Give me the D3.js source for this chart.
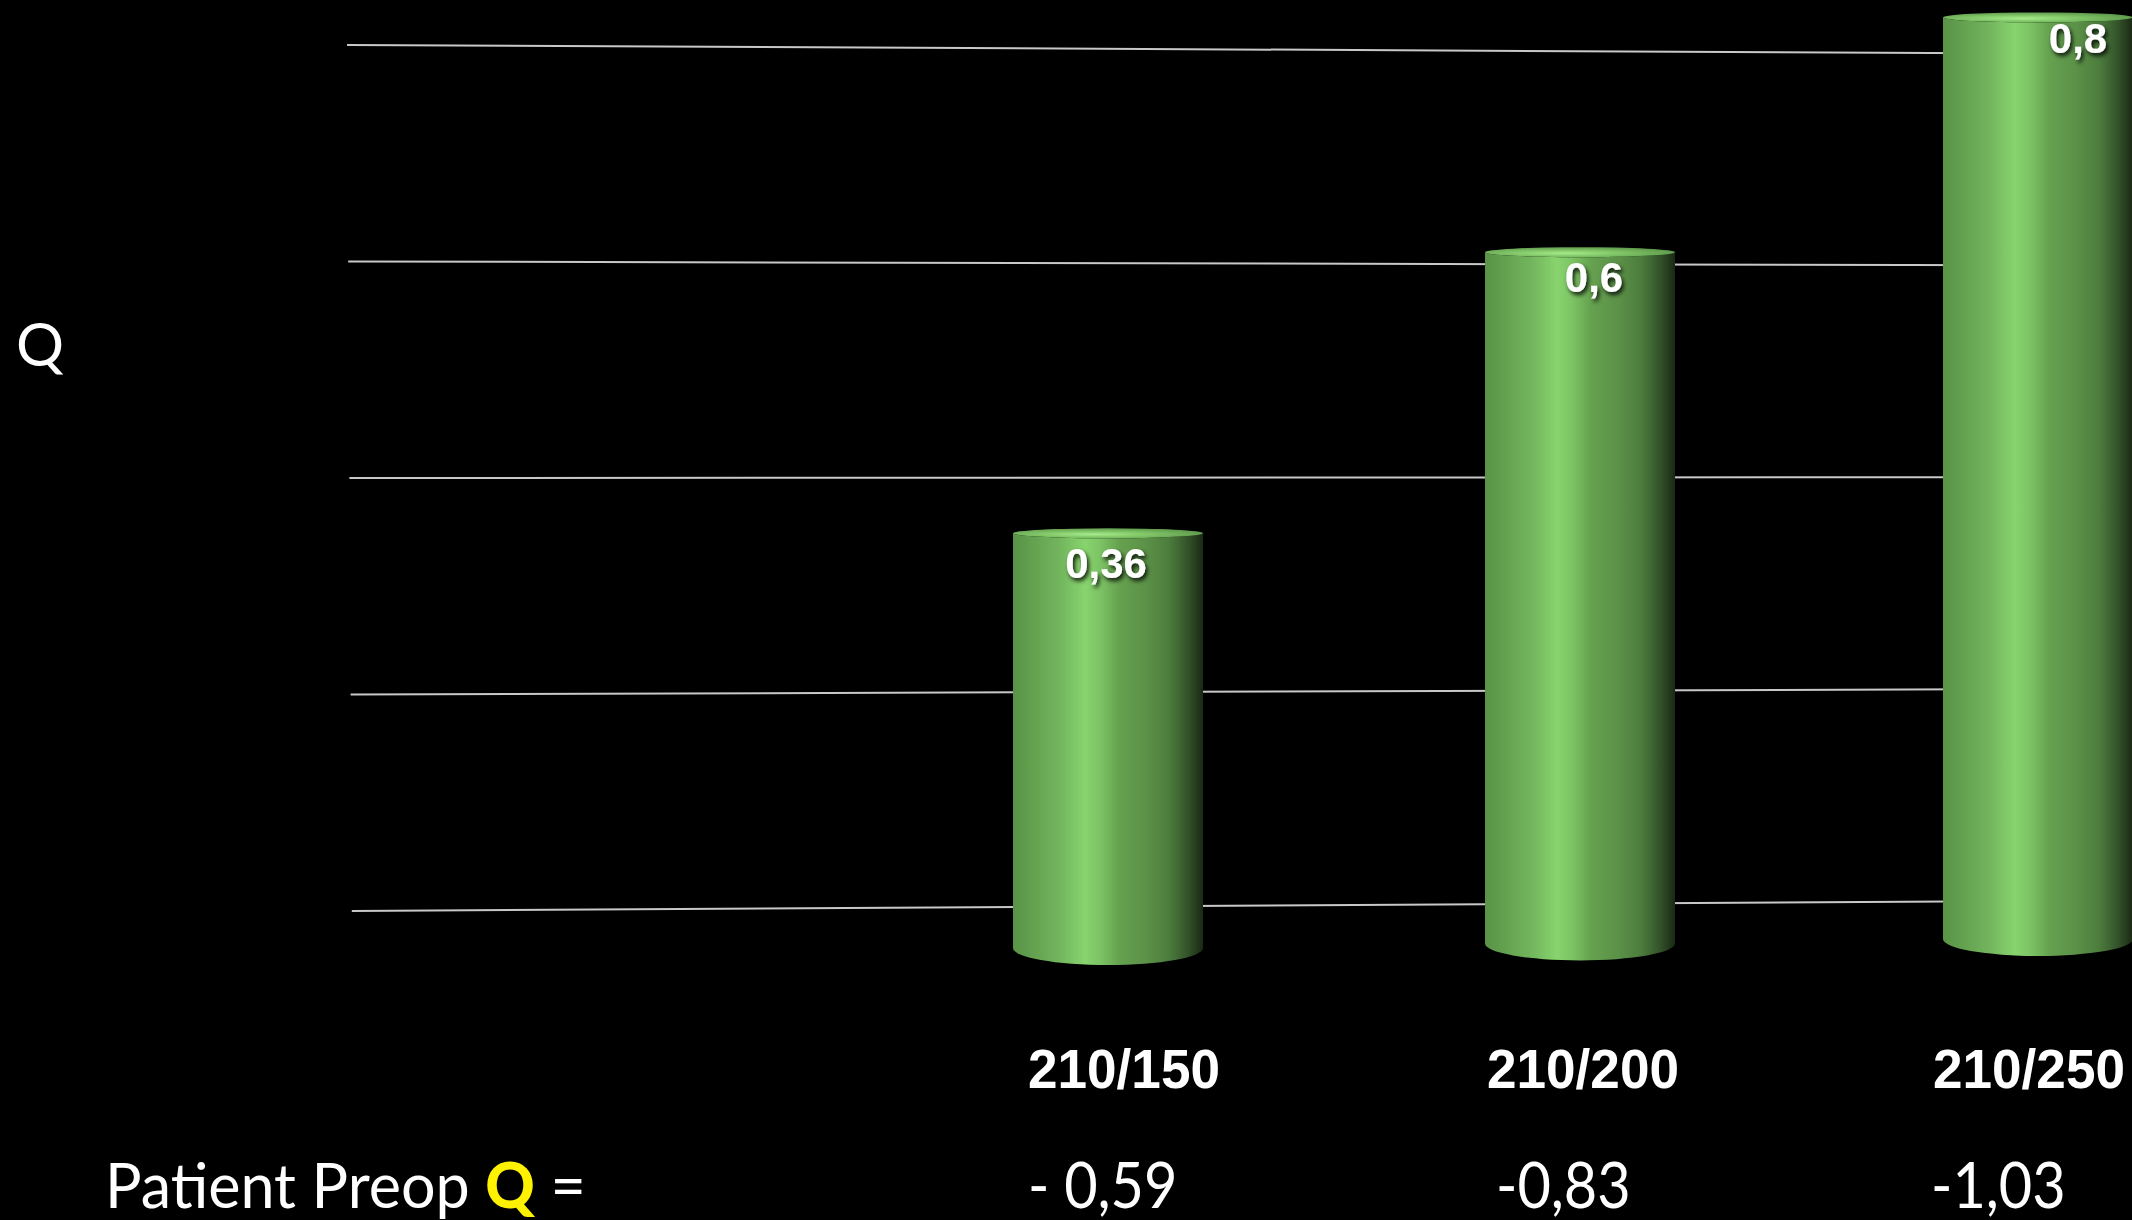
<!DOCTYPE html>
<html>
<head>
<meta charset="utf-8">
<script src="https://cdn.jsdelivr.net/npm/d3@7"></script>
<style>
html,body{margin:0;padding:0;background:#000;overflow:hidden;}
svg{display:block;}
</style>
</head>
<body>
<script>
// ---- data ----
const categories = ["210/150", "210/200", "210/250"];
const values = [0.36, 0.6, 0.8];
const valueLabels = ["0,36", "0,6", "0,8"];
const preopQ = ["- 0,59", "-0,83", "-1,03"];
const gridTicks = [0.2, 0.4, 0.6, 0.8, 1.0];
const yTitle = "Q";
const rowLabel = "Patient Preop ";

const W = 2132, H = 1220;
const svg = d3.select("body").append("svg").attr("width", W).attr("height", H);
svg.append("rect").attr("width", W).attr("height", H).attr("fill", "#000");

const defs = svg.append("defs");
const bodyGrad = defs.append("linearGradient").attr("id", "cyl").attr("x1", "0").attr("x2", "1").attr("y1", "0").attr("y2", "0");
[["0%", "#5a9347"], ["10%", "#63a04f"], ["25%", "#73b65e"], ["38%", "#88d46e"], ["46%", "#7cc364"],
 ["56%", "#65a14f"], ["70%", "#5b9148"], ["82%", "#4d7d3d"], ["92%", "#33532a"], ["100%", "#1a2814"]]
  .forEach(([o, c]) => bodyGrad.append("stop").attr("offset", o).attr("stop-color", c));
const topGrad = defs.append("radialGradient").attr("id", "topface").attr("cx", "0.42").attr("cy", "0.6").attr("r", "0.6");
[["0%", "#a6ec8c"], ["40%", "#86cc6c"], ["100%", "#5f9a4c"]]
  .forEach(([o, c]) => topGrad.append("stop").attr("offset", o).attr("stop-color", c));
const shadow = defs.append("filter").attr("id", "tshadow").attr("x", "-20%").attr("y", "-20%").attr("width", "140%").attr("height", "160%");
shadow.append("feDropShadow").attr("dx", 2).attr("dy", 3).attr("stdDeviation", 2).attr("flood-color", "#000").attr("flood-opacity", 0.85);

// ---- back-wall gridlines (slight perspective: separate left/right scales) ----
const gxL = 347, gxR = 1944;
const yWallL = d3.scaleLinear().domain([0, 1]).range([1127.5, 45]);
const yWallR = d3.scaleLinear().domain([0, 1]).range([1113.6, 53]);
svg.append("g").selectAll("line").data(gridTicks).join("line")
  .attr("x1", d => gxL + (1 - d) * 6)
  .attr("y1", d => yWallL(d))
  .attr("x2", W)
  .attr("y2", d => yWallL(d) + (yWallR(d) - yWallL(d)) * (W - gxL) / (gxR - gxL))
  .attr("stroke", "#c8c8c8").attr("stroke-width", 2);

// ---- bars (cylinders) ----
const idx = d3.scaleOrdinal().domain(categories).range([0, 1, 2]);
const xPos = d3.scaleLinear().domain([0, 1, 2]).range([1108, 1580, 2038]);
const x = c => xPos(idx(c));
const h = d3.scaleLinear().domain([0, 1]).range([0, 1152]);
const base = cx => 948 - (cx - 1108) * 0.0097;
const rx = 95, ryTop = 5, ryBot = 17;

const bars = svg.append("g").selectAll("g").data(categories).join("g");
bars.append("path")
  .attr("d", (c, i) => {
    const cx = x(c), yb = base(cx), yt = yb - h(values[i]);
    return `M${cx - rx},${yt} L${cx - rx},${yb} A${rx},${ryBot} 0 0 0 ${cx + rx},${yb} L${cx + rx},${yt} A${rx},${ryTop} 0 0 1 ${cx - rx},${yt} Z`;
  })
  .attr("fill", "url(#cyl)");
bars.append("ellipse")
  .attr("cx", c => x(c))
  .attr("cy", (c, i) => base(x(c)) - h(values[i]))
  .attr("rx", rx).attr("ry", ryTop)
  .attr("fill", "url(#topface)");

// value labels
const xVal = d3.scaleLinear().domain([0, 1, 2]).range([1106, 1594, 2078]);
svg.append("g").selectAll("text").data(categories).join("text")
  .attr("x", c => xVal(idx(c)))
  .attr("y", (c, i) => { const yt = base(x(c)) - h(values[i]); return yt + 35.2 + yt * 0.0184; })
  .attr("text-anchor", "middle")
  .attr("font-family", "Liberation Sans, Arial, sans-serif")
  .attr("font-weight", "bold").attr("font-size", 42)
  .attr("fill", "#fff").attr("filter", "url(#tshadow)")
  .text((c, i) => valueLabels[i]);

// category labels
const xLab = d3.scaleLinear().domain([0, 1, 2]).range([1028, 1487, 1933]);
svg.append("g").selectAll("text").data(categories).join("text")
  .attr("x", c => xLab(idx(c))).attr("y", 1088)
  .attr("font-family", "Liberation Sans, Arial, sans-serif")
  .attr("font-weight", "bold").attr("font-size", 56)
  .attr("textLength", 192).attr("lengthAdjust", "spacingAndGlyphs")
  .attr("fill", "#fff")
  .text(c => c);

// preop Q row
const xQ = d3.scaleLinear().domain([0, 1, 2]).range([1028, 1496, 1931]);
svg.append("g").selectAll("text").data(categories).join("text")
  .attr("transform", c => `translate(${xQ(idx(c))},1208) scale(0.9,1)`)
  .attr("font-family", "Lato, 'Open Sans', sans-serif")
  .attr("font-weight", 400).attr("font-size", 64)
  .attr("fill", "#fff")
  .text((c, i) => preopQ[i]);

const row = svg.append("text").attr("transform", "translate(105,1208) scale(0.985,1)")
  .attr("font-family", "Lato, 'Open Sans', sans-serif")
  .attr("font-size", 62).attr("fill", "#fff");
row.append("tspan").attr("font-weight", 400).text(rowLabel);
row.append("tspan").attr("font-weight", 900).attr("fill", "#fff200").text("Q");
row.append("tspan").attr("font-weight", 400).text(" =");

// y axis title
svg.append("text").attr("x", 16).attr("y", 366)
  .attr("font-family", "Lato, 'Open Sans', sans-serif")
  .attr("font-weight", 400).attr("font-size", 60)
  .attr("fill", "#fff").text(yTitle);
</script>
</body>
</html>
